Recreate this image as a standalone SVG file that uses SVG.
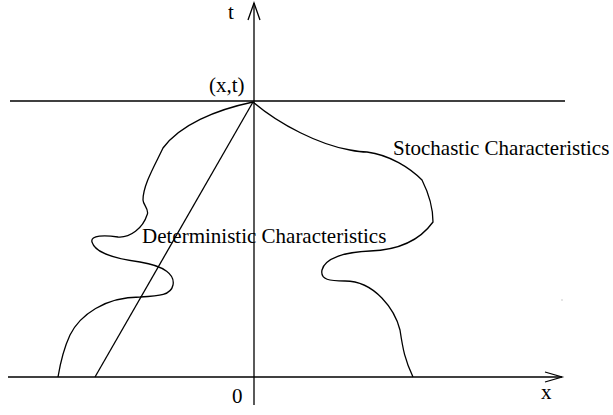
<svg xmlns="http://www.w3.org/2000/svg" width="613" height="415" viewBox="0 0 613 415">
<style>
.ln{fill:none;stroke:#000;stroke-width:1.3}
.tx{font-family:"Liberation Serif","Times New Roman",serif;font-size:21px;fill:#000}
</style>
<rect width="613" height="415" fill="#fff"/>
<g id="axes">
<line class="ln" x1="254" y1="405" x2="254" y2="3"/>
<polyline class="ln" points="248,20 254,3 260,20"/>
<line class="ln" x1="8" y1="377" x2="562" y2="377"/>
<polyline class="ln" points="545,372 562,377 545,382"/>
<line class="ln" x1="10" y1="101" x2="565" y2="101"/>
</g>
<g id="connectors">
<line class="ln" x1="253" y1="102" x2="95" y2="377"/>
<path class="ln" d="M253,102 C215,110 180,125 163,148 C155,165 143,185 143,200 C143,205 150,210 147,215 C143,228 130,238 118,237 C105,235 90,235 92,242 C95,252 110,258 140,262 C165,266 175,275 173,285 C171,295 160,296 140,297 C105,297 80,315 70,335 C63,350 60,365 58,377"/>
<path class="ln" d="M253,102 C280,125 320,145 350,150 C355,151 360,152 367,152 C390,155 410,168 422,180 C428,192 433,205 433,222 C420,240 400,250 370,251 C345,252 325,258 322,270 C320,280 330,281 345,281 C375,281 395,310 400,330 C403,350 405,360 413,377"/>
</g>
<g id="labels">
<text class="tx" x="231" y="19" text-anchor="middle">t</text>
<text class="tx" x="209" y="92">(x,t)</text>
<text class="tx" x="393" y="155">Stochastic Characteristics</text>
<text class="tx" x="142" y="243">Deterministic Characteristics</text>
<text class="tx" x="232" y="403">0</text>
<text class="tx" x="541" y="399">x</text>
</g>
<rect x="561.5" y="299.5" width="1" height="1" fill="#999"/>
</svg>
